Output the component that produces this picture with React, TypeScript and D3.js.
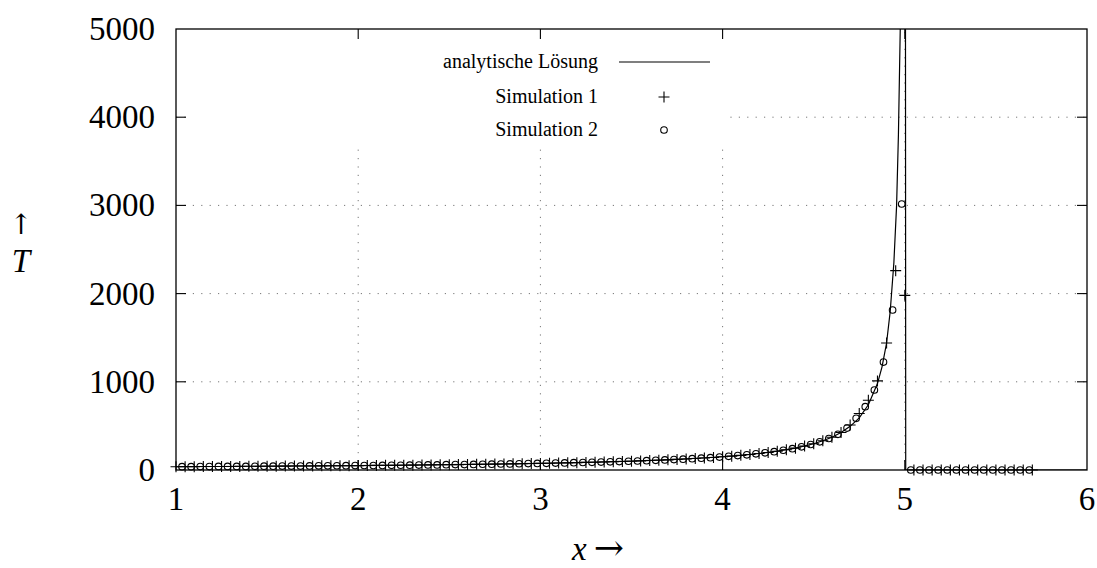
import React, { useEffect, useRef } from "react"
import * as d3 from "d3"

// tick labels
const xTicks = [1, 2, 3, 4, 5, 6]
const yTicks = [0, 1000, 2000, 3000, 4000, 5000]

// analytic solution (runs off the top near x = 5, then drops to 0)
const analyticX = [1, 1.5, 2, 2.5, 3, 3.25, 3.5, 3.75, 4, 4.1, 4.2, 4.3, 4.4, 4.5, 4.55, 4.6, 4.65, 4.7, 4.75, 4.8,
    4.85, 4.875, 4.9, 4.92, 4.94, 4.955, 4.965, 4.975, 4.99, 5.005, 6]
const analyticT = [37, 43, 50, 60, 75, 86, 100, 120, 150, 166, 187, 213, 248, 298, 331, 372, 425, 495, 590, 740,
    980, 1170, 1440, 1800, 2350, 3000, 3800, 5000, 60000, 0, 0]

// Simulation 1 (+)
const sim1X = [
    1.00, 1.05, 1.10, 1.15, 1.20, 1.25, 1.30, 1.35, 1.40, 1.45,
    1.50, 1.55, 1.60, 1.65, 1.70, 1.75, 1.80, 1.85, 1.90, 1.95,
    2.00, 2.05, 2.10, 2.15, 2.20, 2.25, 2.30, 2.35, 2.40, 2.45,
    2.50, 2.55, 2.60, 2.65, 2.70, 2.75, 2.80, 2.85, 2.90, 2.95,
    3.00, 3.05, 3.10, 3.15, 3.20, 3.25, 3.30, 3.35, 3.40, 3.45,
    3.50, 3.55, 3.60, 3.65, 3.70, 3.75, 3.80, 3.85, 3.90, 3.95,
    4.00, 4.05, 4.10, 4.15, 4.20, 4.25, 4.30, 4.35, 4.40, 4.45,
    4.50, 4.55, 4.60, 4.65, 4.70, 4.75, 4.80, 4.85, 4.90, 4.95,
    5.00, 5.05, 5.10, 5.15, 5.20, 5.25, 5.30, 5.35, 5.40, 5.45,
    5.50, 5.55, 5.60, 5.65, 5.70]
const sim1T = [
    37, 38, 38, 39, 39, 40, 40, 41, 42, 42,
    43, 43, 44, 45, 45, 46, 47, 48, 48, 49,
    50, 51, 52, 53, 53, 54, 55, 57, 58, 59,
    60, 61, 62, 64, 65, 67, 68, 70, 71, 73,
    75, 77, 79, 81, 83, 86, 88, 91, 94, 97,
    100, 103, 107, 111, 115, 120, 125, 130, 136, 142,
    150, 157, 166, 176, 187, 199, 213, 230, 248, 271,
    298, 331, 372, 425, 510, 640, 790, 1010, 1440, 2260,
    1980, 0, 0, 0, 0, 0, 0, 0, 0, 0,
    0, 0, 0, 0, 0]

// Simulation 2 (o)
const sim2X = [
    1.033, 1.083, 1.133, 1.183, 1.233, 1.283, 1.333, 1.383, 1.433, 1.483,
    1.533, 1.583, 1.633, 1.683, 1.733, 1.783, 1.833, 1.883, 1.933, 1.983,
    2.033, 2.083, 2.133, 2.183, 2.233, 2.283, 2.333, 2.383, 2.433, 2.483,
    2.533, 2.583, 2.633, 2.683, 2.733, 2.783, 2.833, 2.883, 2.933, 2.983,
    3.033, 3.083, 3.133, 3.183, 3.233, 3.283, 3.333, 3.383, 3.433, 3.483,
    3.533, 3.583, 3.633, 3.683, 3.733, 3.783, 3.833, 3.883, 3.933, 3.983,
    4.033, 4.083, 4.133, 4.183, 4.233, 4.283, 4.333, 4.383, 4.433, 4.483,
    4.533, 4.583, 4.633, 4.683, 4.733, 4.783, 4.833, 4.883, 4.933, 4.983,
    5.033, 5.083, 5.133, 5.183, 5.233, 5.283, 5.333, 5.383, 5.433, 5.483,
    5.533, 5.583, 5.633, 5.683]
const sim2T = [
    38, 38, 39, 39, 40, 40, 41, 41, 42, 43,
    43, 44, 45, 45, 46, 47, 47, 48, 49, 50,
    51, 51, 52, 53, 54, 55, 56, 57, 58, 60,
    61, 62, 63, 65, 66, 68, 69, 71, 73, 74,
    76, 78, 80, 83, 85, 87, 90, 93, 96, 99,
    102, 106, 110, 114, 118, 123, 128, 134, 140, 147,
    155, 163, 172, 183, 195, 208, 224, 242, 263, 289,
    319, 357, 405, 475, 586, 718, 907, 1224, 1814, 3016,
    0, 0, 0, 0, 0, 0, 0, 0, 0, 0,
    0, 0, 0, 0]

const legendLabels = ["analytische Lösung", "Simulation 1", "Simulation 2"]

const width = 1097
const height = 568
const serif = "'Liberation Serif', 'DejaVu Serif', serif"
const arrowFont = "'DejaVu Serif', 'DejaVu Sans', serif"

const App = () => {
    const ref = useRef<SVGGElement>(null)

    useEffect(() => {
        const g = d3.select(ref.current)
        g.selectAll("*").remove()

        const plot = { left: 176, right: 1087, top: 29, bottom: 470 }

        const xScale = d3.scaleLinear().domain([1, 6]).range([plot.left, plot.right])
        const yScale = d3.scaleLinear().domain([0, 5000]).range([plot.bottom, plot.top])

        // dotted grid
        const grid = g.append("g")
            .attr("stroke", "#777")
            .attr("stroke-width", 1)
            .attr("stroke-dasharray", "1.2 7.2")
        grid.selectAll(".gx")
            .data(xTicks.slice(1, -1))
            .join("line")
            .attr("x1", d => xScale(d)).attr("x2", d => xScale(d))
            .attr("y1", plot.bottom).attr("y2", plot.top)
        grid.selectAll(".gy")
            .data(yTicks.slice(1, -1))
            .join("line")
            .attr("y1", d => yScale(d)).attr("y2", d => yScale(d))
            .attr("x1", plot.left).attr("x2", plot.right)

        // opaque key box
        g.append("rect")
            .attr("x", 188).attr("y", plot.top + 1)
            .attr("width", 536).attr("height", 116)
            .attr("fill", "#fff")

        // clip for the curve
        g.append("clipPath").attr("id", "plotclip")
            .append("rect")
            .attr("x", plot.left).attr("y", plot.top)
            .attr("width", plot.right - plot.left).attr("height", plot.bottom - plot.top)

        const line = d3.line<number>()
            .x((_, i) => xScale(analyticX[i]))
            .y(d => yScale(d))

        g.append("path")
            .attr("clip-path", "url(#plotclip)")
            .attr("d", line(analyticT))
            .attr("fill", "none")
            .attr("stroke", "#000")
            .attr("stroke-width", 1.2)

        const plusPath = (cx: number, cy: number, s: number) =>
            `M${cx - s},${cy}H${cx + s}M${cx},${cy - s}V${cy + s}`

        g.append("path")
            .attr("d", sim1T.map((t, i) => plusPath(xScale(sim1X[i]), yScale(t), 5.5)).join(""))
            .attr("fill", "none")
            .attr("stroke", "#000")
            .attr("stroke-width", 1.1)

        g.append("g")
            .selectAll("circle")
            .data(sim2T)
            .join("circle")
            .attr("cx", (_, i) => xScale(sim2X[i]))
            .attr("cy", d => yScale(d))
            .attr("r", 3.3)
            .attr("fill", "none")
            .attr("stroke", "#000")
            .attr("stroke-width", 1.1)

        // border
        g.append("rect")
            .attr("x", plot.left).attr("y", plot.top)
            .attr("width", plot.right - plot.left).attr("height", plot.bottom - plot.top)
            .attr("fill", "none")
            .attr("stroke", "#000")
            .attr("stroke-width", 1.3)

        // inward ticks, mirrored
        const tl = 10
        const ticks = g.append("g").attr("stroke", "#000").attr("stroke-width", 1.1)
        xTicks.slice(1, -1).forEach(v => {
            const px = xScale(v)
            ticks.append("line").attr("x1", px).attr("x2", px).attr("y1", plot.bottom).attr("y2", plot.bottom - tl)
            ticks.append("line").attr("x1", px).attr("x2", px).attr("y1", plot.top).attr("y2", plot.top + tl)
        })
        yTicks.slice(1, -1).forEach(v => {
            const py = yScale(v)
            ticks.append("line").attr("y1", py).attr("y2", py).attr("x1", plot.left).attr("x2", plot.left + tl)
            ticks.append("line").attr("y1", py).attr("y2", py).attr("x1", plot.right).attr("x2", plot.right - tl)
        })

        // tick labels
        g.append("g")
            .selectAll("text")
            .data(xTicks)
            .join("text")
            .attr("x", d => xScale(d))
            .attr("y", 510)
            .attr("text-anchor", "middle")
            .attr("font-family", serif)
            .attr("font-size", 33)
            .text(d => d)

        g.append("g")
            .selectAll("text")
            .data(yTicks)
            .join("text")
            .attr("x", 155)
            .attr("y", d => yScale(d) + 11)
            .attr("text-anchor", "end")
            .attr("font-family", serif)
            .attr("font-size", 33)
            .text(d => d)

        // axis labels
        const xl = g.append("text")
            .attr("x", 572)
            .attr("y", 560)
            .attr("font-family", serif)
            .attr("font-size", 33)
        xl.append("tspan").attr("font-style", "italic").text("x")
        xl.append("tspan").attr("font-family", arrowFont).attr("dx", 7).attr("font-size", 36).text("→")

        g.append("text")
            .attr("x", 21).attr("y", 234)
            .attr("text-anchor", "middle")
            .attr("font-family", arrowFont)
            .attr("font-size", 28)
            .attr("fill", "#000")
            .text("↑")
        g.append("text")
            .attr("x", 21).attr("y", 272)
            .attr("text-anchor", "middle")
            .attr("font-family", serif)
            .attr("font-style", "italic")
            .attr("font-size", 33)
            .text("T")

        // key
        const rowY = [62, 97, 130]
        const key = g.append("g")
        key.selectAll("text")
            .data(legendLabels)
            .join("text")
            .attr("x", 598)
            .attr("y", (_, i) => rowY[i] + 6)
            .attr("text-anchor", "end")
            .attr("font-family", serif)
            .attr("font-size", 20)
            .text(d => d)
        key.append("line")
            .attr("x1", 619).attr("x2", 710)
            .attr("y1", rowY[0]).attr("y2", rowY[0])
            .attr("stroke", "#000").attr("stroke-width", 1.2)
        key.append("path")
            .attr("d", plusPath(664, rowY[1], 5.5))
            .attr("stroke", "#000").attr("stroke-width", 1.1)
        key.append("circle")
            .attr("cx", 664).attr("cy", rowY[2]).attr("r", 3.3)
            .attr("fill", "none")
            .attr("stroke", "#000").attr("stroke-width", 1.1)
    }, [])

    return (
        <svg width={width} height={height}
            style={{ position: "absolute", left: 0, top: 0, background: "#fff" }}>
            <g ref={ref} />
        </svg>
    )
}

export default App
